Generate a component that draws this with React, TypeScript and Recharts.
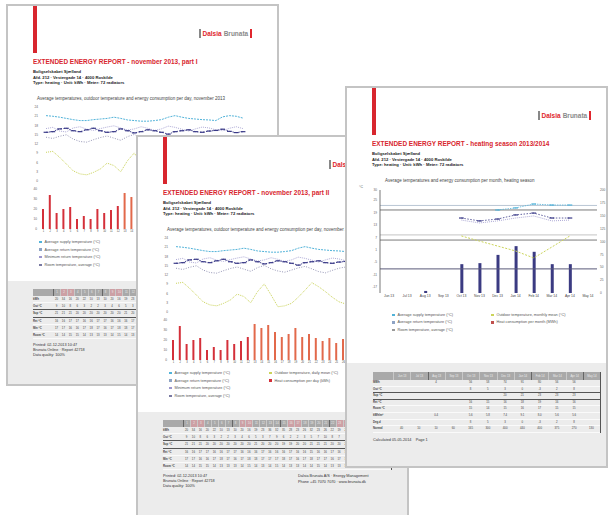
import React from "react";
import { Bar, BarChart, Cell, ComposedChart, Line, LineChart, ReferenceLine, XAxis, YAxis } from "recharts";

// november 2013, one value per day
const days = [1, 2, 3, 4, 5, 6, 7, 8, 9, 10, 11, 12, 13, 14, 15, 16, 17, 18, 19, 20, 21, 22, 23, 24, 25, 26, 27, 28, 29, 30];
const supplyTemp = [21.2, 21.0, 20.7, 20.3, 19.9, 19.6, 19.6, 19.9, 20.1, 20.3, 20.7, 20.3, 19.8, 19.6, 19.4, 19.4, 19.6, 19.9, 20.7, 21.2, 20.7, 20.3, 20.1, 19.9, 19.8, 19.6, 20.8, 21.2, 21.0, 20.4];
const returnTemp = [15.8, 16.0, 16.9, 17.1, 16.3, 16.0, 16.6, 17.1, 16.3, 15.8, 16.0, 16.9, 16.3, 15.6, 16.0, 16.6, 16.3, 15.8, 15.2, 16.0, 16.3, 16.6, 16.0, 15.8, 16.2, 16.4, 16.8, 16.1, 15.7, 16.0];
const minReturnTemp = [17.0, 17.4, 16.2, 15.9, 17.2, 17.6, 16.8, 16.4, 17.0, 17.5, 17.9, 17.2, 16.5, 16.9, 17.6, 17.1, 16.4, 16.9, 17.8, 17.4, 16.8, 16.2, 16.9, 17.5, 17.2, 16.6, 16.3, 17.1, 17.6, 17.0];
const roomTemp = [14.2, 13.8, 14.5, 15.0, 13.6, 12.8, 12.6, 13.4, 14.1, 14.6, 13.9, 13.2, 14.4, 15.1, 14.0, 13.3, 12.9, 13.6, 14.3, 14.8, 14.0, 13.1, 12.7, 13.5, 14.2, 14.6, 13.8, 13.2, 13.9, 14.4];
const outdoorTemp = [9.3, 9.6, 7.7, 5.5, 3.3, 2.3, 2.0, 2.8, 3.9, 5.8, 5.0, 3.0, 6.6, 9.1, 5.5, 1.7, 2.0, 2.8, 4.8, 7.1, 9.5, 8.2, 6.6, 4.8, 3.3, 2.6, 3.5, 5.0, 6.2, 4.8];
const dailyEnergy = [20, 34, 16, 20, 22, 10, 13, 10, 20, 16, 19, 23, 36, 32, 35, 28, 23, 26, 32, 23, 26, 22, 19, 22, 17, 21, 24, 27, 25, 20];
const weekendDays = [2, 3, 9, 10, 16, 17, 23, 24, 30];

// heating season 2013/2014, one value per month
const months = ["Jun 13", "Jul 13", "Aug 13", "Sep 13", "Oct 13", "Nov 13", "Dec 13", "Jan 14", "Feb 14", "Mar 14", "Apr 14", "May 14"];
const monthlyEnergy = [null, null, 4, null, 56, 58, 74, 91, 80, 56, 56, null];
const monthlyOutdoor = [null, null, null, null, 7.7, 5.2, 2.8, 0.4, -3.0, 2.3, 7.7, null];
const monthlySupply = [null, null, null, null, null, null, 20.3, 21.3, 23.2, 22.7, 22.7, null];
const monthlyReturn = [null, null, null, null, 16.4, 15.0, 15.9, 17.9, 18.8, 16.4, 16.4, null];
const monthlyRoom = [null, null, null, null, 15.4, 14.0, 15.0, 16.4, 17.4, 15.0, 15.4, null];
const normalDegreeDays = [40, 10, 10, 60, 165, 300, 400, 440, 400, 375, 270, 130];
const referenceLevels = [22.5, 20.3, 8.2, 5.7, -8.3];

const RED = "#d8262e";
const C_SUPPLY = "#52b3d9";
const C_RETURN = "#3a3a88";
const C_MIN = "#9b95cc";
const C_ROOM = "#7a7aa2";
const C_OUT = "#cbd45a";
const C_BAR = "#d4303a";
const C_BAR2 = "#e2694b";
const C_NAVY = "#3b3b82";

const dailyData = days.map((day, i) => ({
  day,
  supply: supplyTemp[i],
  ret: returnTemp[i],
  min: minReturnTemp[i],
  room: roomTemp[i],
  outdoor: outdoorTemp[i],
  energy: dailyEnergy[i],
}));

const monthlyData = months.map((month, i) => ({
  month,
  energy: monthlyEnergy[i],
  outdoor: monthlyOutdoor[i],
  supply: monthlySupply[i],
  ret: monthlyReturn[i],
  room: monthlyRoom[i],
}));

const tick = { fontSize: 3.2, fill: "#666" };
const refColors = ["#b9c6d4", "#7a7a7a", "#c4c4c4", "#7a7a7a", "#5a5a78"];

function DashDot(props: any) {
  const { cx, cy, stroke, index } = props;
  if (cx == null || cy == null || Number.isNaN(cy)) return <g key={index} />;
  return <line key={index} x1={cx - 2.4} x2={cx + 2.4} y1={cy} y2={cy} stroke={stroke} strokeWidth={1.2} />;
}

function Header({ title }: { title: string }) {
  return (
    <>
      <div style={{ position: "absolute", left: 26, top: 0, width: 4, height: 48, background: RED }} />
      <div style={{ position: "absolute", left: 192, top: 24, height: 9, display: "flex", alignItems: "center", fontSize: 6.5, fontWeight: "bold", whiteSpace: "nowrap" }}>
        <span style={{ width: 1.5, height: 9, background: "#888", marginRight: 2 }} />
        <span style={{ color: "#e0262d" }}>Dalsia</span>
        <span style={{ color: "#8a8a8a", marginLeft: 2 }}>Brunata</span>
        <span style={{ width: 1.5, height: 9, background: "#e0262d", marginLeft: 2 }} />
      </div>
      <div style={{ position: "absolute", left: 26, top: 53, fontSize: 7, fontWeight: "bold", color: RED, whiteSpace: "nowrap", transform: "scaleX(0.92)", transformOrigin: "left" }}>
        {title}
      </div>
      <div style={{ position: "absolute", left: 26, top: 64, fontSize: 4.2, lineHeight: "5.5px", fontWeight: "bold", color: "#222", whiteSpace: "nowrap" }}>
        <div>Boligselskabet Sjælland</div>
        <div>Afd. 212 · Vestergade 14 · 4000 Roskilde</div>
        <div>Type: heating · Unit: kWh · Meter: 72 radiators</div>
      </div>
    </>
  );
}

function Legend({ left, top, gap, items }: { left: number; top: number; gap: number; items: { color: string; label: string }[] }) {
  return (
    <div style={{ position: "absolute", left, top }}>
      {items.map((it) => (
        <div key={it.label} style={{ display: "flex", alignItems: "center", height: gap, fontSize: 3.8, color: "#555", whiteSpace: "nowrap" }}>
          <span style={{ width: 2.5, height: 2.5, background: it.color, marginRight: 3 }} />
          {it.label}
        </div>
      ))}
    </div>
  );
}

type Row = { label: string; values: (string | number)[] };

function DataTable(props: {
  left: number; top: number; width: number; labelWidth: number; headers: (string | number)[];
  shaded: number[]; dividers: number[]; rows: Row[]; thickAfter: number[]; headerHeight: number; rowHeight: number;
}) {
  const { left, top, width, labelWidth, headers, shaded, dividers, rows, thickAfter, headerHeight, rowHeight } = props;
  const cell = { flex: 1, minWidth: 0, textAlign: "center" as const, whiteSpace: "nowrap" as const };
  return (
    <div style={{ position: "absolute", left, top, width, fontSize: 2.8, color: "#444", borderRight: "1.5px solid #555" }}>
      <div style={{ display: "flex", height: headerHeight, background: "#a9a9a9", lineHeight: `${headerHeight}px` }}>
        <div style={{ width: labelWidth }} />
        {headers.map((h, i) => (
          <div key={i} style={{ ...cell, color: "#ececec", background: shaded.includes(i) ? "#cda0a5" : undefined, borderLeft: dividers.includes(i) ? "1.5px solid #666" : "0.5px solid #c8c8c8" }}>
            {h}
          </div>
        ))}
      </div>
      {rows.map((r, ri) => (
        <div key={ri} style={{ display: "flex", height: rowHeight, boxSizing: "border-box", lineHeight: `${rowHeight - 1}px`, borderBottom: thickAfter.includes(ri) ? "1.6px solid #555" : "0.5px solid #fafafa" }}>
          <div style={{ width: labelWidth, fontWeight: "bold", whiteSpace: "nowrap" }}>{r.label}</div>
          {r.values.map((v, i) => (
            <div key={i} style={cell}>{v}</div>
          ))}
        </div>
      ))}
    </div>
  );
}

const fmt = (v: number | null) => (v == null ? "" : Math.round(v));

// lastLabelDay: day labels further right sit under the next sheet and are left out
function DailyPage({ left, top, title, lastLabelDay }: { left: number; top: number; title: string; lastLabelDay: number }) {
  const rows: Row[] = [
    { label: "kWh", values: dailyEnergy },
    { label: "Out °C", values: outdoorTemp.map(fmt) },
    { label: "Sup °C", values: supplyTemp.map(fmt) },
    { label: "Ret °C", values: returnTemp.map(fmt) },
    { label: "Min °C", values: minReturnTemp.map(fmt) },
    { label: "Room °C", values: roomTemp.map(fmt) },
  ];
  return (
    <div style={{ position: "absolute", left, top, width: 271, height: 380, background: "#fff" }}>
      <div style={{ position: "absolute", left: 0, right: 0, top: 276, bottom: 0, background: "#ececec" }} />
      <Header title={title} />
      <div style={{ position: "absolute", left: 30, top: 91, fontSize: 4.5, color: "#444", whiteSpace: "nowrap" }}>
        Average temperatures, outdoor temperature and energy consumption per day, november 2013
      </div>
      <div style={{ position: "absolute", left: 12, top: 98 }}>
        <LineChart width={256} height={80} data={dailyData} margin={{ top: 4, right: 0, bottom: 2, left: 0 }}>
          <XAxis dataKey="day" hide padding={{ left: 5, right: 15 }} />
          <YAxis yAxisId="l" width={22} domain={[0, 24]} ticks={[0, 3, 6, 9, 12, 15, 18, 21, 24]} tick={tick} tickLine={false} axisLine={false} tickSize={2} tickMargin={1} />
          <YAxis yAxisId="r" orientation="right" width={17} domain={[0, 24]} ticks={[14, 17, 20, 23]} tick={tick} tickLine={false} axisLine={false} tickSize={2} tickMargin={1} />
          <Line yAxisId="l" dataKey="supply" stroke={C_SUPPLY} strokeWidth={1} strokeDasharray="2 1" dot={false} isAnimationActive={false} />
          <Line yAxisId="l" dataKey="min" stroke={C_MIN} strokeWidth={0.8} strokeDasharray="1 1" dot={false} isAnimationActive={false} />
          <Line yAxisId="l" dataKey="room" stroke={C_ROOM} strokeWidth={0.8} strokeDasharray="1 1.5" dot={false} isAnimationActive={false} />
          <Line yAxisId="l" dataKey="ret" stroke={C_RETURN} strokeWidth={0.9} strokeDasharray="1.5 1.5" dot={DashDot} isAnimationActive={false} />
          <Line yAxisId="l" dataKey="outdoor" stroke={C_OUT} strokeWidth={1} strokeDasharray="1 1" dot={false} isAnimationActive={false} />
        </LineChart>
      </div>
      <div style={{ position: "absolute", left: 12, top: 180 }}>
        <BarChart width={256} height={51} data={dailyData} margin={{ top: 4, right: 17, bottom: 0, left: 0 }}>
          <XAxis dataKey="day" height={7} padding={{ left: 0, right: 14 }} tick={{ fontSize: 2.6, fill: "#444" }} tickLine={false} axisLine={false} interval={0} tickSize={0} tickMargin={1}
            tickFormatter={(d: number) => (d <= lastLabelDay ? String(d) : "")} />
          <YAxis width={21} domain={[0, 40]} ticks={[0, 10, 20, 30, 40]} tick={tick} tickLine={false} axisLine={false} tickSize={2} tickMargin={1} />
          <Bar dataKey="energy" barSize={2} isAnimationActive={false}>
            {dailyData.map((d, i) => (
              <Cell key={d.day} fill={i < 12 ? C_BAR : C_BAR2} />
            ))}
          </Bar>
        </BarChart>
      </div>
      <Legend left={32} top={233} gap={7.7} items={[
        { color: C_SUPPLY, label: "Average supply temperature (°C)" },
        { color: "#8ea3c4", label: "Average return temperature (°C)" },
        { color: C_MIN, label: "Minimum return temperature (°C)" },
        { color: C_ROOM, label: "Room temperature, average (°C)" },
      ]} />
      <Legend left={132} top={233} gap={7.7} items={[
        { color: C_OUT, label: "Outdoor temperature, daily mean (°C)" },
        { color: C_BAR, label: "Heat consumption per day (kWh)" },
      ]} />
      <DataTable left={26} top={284} width={228} labelWidth={20} headers={days} shaded={weekendDays.map((d) => d - 1)}
        dividers={[0, 7, 14, 21, 28]} rows={rows} thickAfter={[1, 2]} headerHeight={7} rowHeight={7.2} />
      <div style={{ position: "absolute", left: 26, top: 338, fontSize: 3.8, lineHeight: "5px", color: "#333", whiteSpace: "nowrap" }}>
        <div>Printed: 02-12-2013 10:47</div>
        <div>Brunata Online · Report 42718</div>
        <div>Data quality: 100%</div>
      </div>
      <div style={{ position: "absolute", left: 161, top: 338, fontSize: 3.8, lineHeight: "5.5px", color: "#333", whiteSpace: "nowrap" }}>
        <div>Dalsia Brunata A/S · Energy Management</div>
        <div>Phone +45 7070 7070 · www.brunata.dk</div>
      </div>
      <div style={{ position: "absolute", inset: -1, border: "2px solid #c4c4c4", pointerEvents: "none" }} />
    </div>
  );
}

function SeasonPage({ left, top }: { left: number; top: number }) {
  const rows: Row[] = [
    { label: "MWh", values: monthlyEnergy.map(fmt) },
    { label: "Out °C", values: monthlyOutdoor.map(fmt) },
    { label: "Sup °C", values: monthlySupply.map(fmt) },
    { label: "Ret °C", values: monthlyReturn.map(fmt) },
    { label: "Room °C", values: monthlyRoom.map(fmt) },
    { label: "kWh/m²", values: monthlyEnergy.map((v) => (v == null ? "" : (v / 10).toFixed(1))) },
    { label: "Deg.d", values: monthlyOutdoor.map(fmt) },
    { label: "Normal", values: normalDegreeDays },
  ];
  return (
    <div style={{ position: "absolute", left, top, width: 261, height: 380, background: "#fff" }}>
      <div style={{ position: "absolute", left: 0, right: 0, top: 276, bottom: 0, background: "#ececec" }} />
      <Header title="EXTENDED ENERGY REPORT - heating season 2013/2014" />
      <div style={{ position: "absolute", left: 39, top: 91, fontSize: 4.5, color: "#444", whiteSpace: "nowrap" }}>
        Average temperatures and energy consumption per month, heating season
      </div>
      <div style={{ position: "absolute", left: 12, top: 98 }}>
        <ComposedChart width={253} height={116} data={monthlyData} margin={{ top: 5, right: 0, bottom: 0, left: 0 }}>
          <XAxis dataKey="month" height={8} tick={{ fontSize: 3.4, fill: "#444" }} tickLine={false} axisLine={false} interval={0} tickSize={0} tickMargin={2} />
          <YAxis yAxisId="t" width={22} domain={[-20, 30]} tickCount={21} tick={tick} tickLine={false} axisLine={{ stroke: "#555", strokeWidth: 0.8 }} tickSize={2} tickMargin={1}
            label={{ value: "°C", position: "insideTopLeft", offset: -4, fontSize: 3.5, fill: "#555", dx: 5 }} />
          <YAxis yAxisId="e" orientation="right" width={14} domain={[0, 200]} tickCount={9} tick={tick} tickLine={false} axisLine={false} tickSize={2} tickMargin={1} />
          {referenceLevels.map((v, i) => (
            <ReferenceLine key={v} yAxisId="t" y={v} stroke={refColors[i]} strokeWidth={1} />
          ))}
          <Bar yAxisId="e" dataKey="energy" barSize={3} fill={C_NAVY} isAnimationActive={false} />
          <Line yAxisId="t" dataKey="outdoor" stroke={C_OUT} strokeWidth={1} strokeDasharray="2 1.5" dot={false} isAnimationActive={false} />
          <Line yAxisId="t" dataKey="room" stroke={C_MIN} strokeWidth={0.8} strokeDasharray="1 1" dot={false} isAnimationActive={false} />
          <Line yAxisId="t" dataKey="ret" stroke={C_RETURN} strokeWidth={0.8} strokeDasharray="1.5 1.5" dot={DashDot} isAnimationActive={false} />
          <Line yAxisId="t" dataKey="supply" stroke={C_SUPPLY} strokeWidth={0.8} strokeDasharray="1.5 1" dot={DashDot} isAnimationActive={false} />
        </ComposedChart>
      </div>
      <Legend left={46} top={224} gap={7.5} items={[
        { color: C_SUPPLY, label: "Average supply temperature (°C)" },
        { color: "#8ea3c4", label: "Average return temperature (°C)" },
        { color: "#999", label: "Room temperature, average (°C)" },
      ]} />
      <Legend left={145} top={224} gap={7.5} items={[
        { color: C_OUT, label: "Outdoor temperature, monthly mean (°C)" },
        { color: "#c0504d", label: "Heat consumption per month (MWh)" },
      ]} />
      <DataTable left={27} top={285} width={227} labelWidth={20} headers={months} shaded={[]}
        dividers={[2, 8, 11]} rows={rows} thickAfter={[1, 2]} headerHeight={8} rowHeight={6.6} />
      <div style={{ position: "absolute", left: 27, top: 351, fontSize: 3.8, color: "#333", whiteSpace: "nowrap" }}>
        Calculated 05-05-2014 &nbsp;&nbsp; Page 1
      </div>
      <div style={{ position: "absolute", inset: -1, border: "2px solid #c4c4c4", pointerEvents: "none" }} />
    </div>
  );
}

export default function App() {
  return (
    <div style={{ position: "fixed", left: 0, top: 0, width: 611, height: 515, background: "#fff", overflow: "hidden", fontFamily: "'Liberation Sans', Arial, sans-serif" }}>
      <DailyPage left={7} top={5} title="EXTENDED ENERGY REPORT - november 2013, part I" lastLabelDay={14} />
      <DailyPage left={137} top={136} title="EXTENDED ENERGY REPORT - november 2013, part II" lastLabelDay={30} />
      <SeasonPage left={346} top={87} />
    </div>
  );
}
